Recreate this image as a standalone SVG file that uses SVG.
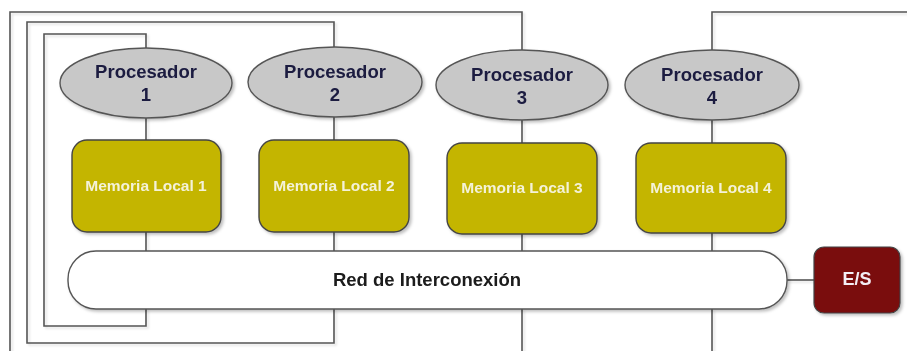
<svg xmlns="http://www.w3.org/2000/svg" width="907" height="351" viewBox="0 0 907 351">
<defs>
<filter id="sh" x="-10%" y="-10%" width="130%" height="140%">
<feDropShadow dx="2" dy="2" stdDeviation="1.5" flood-color="#000" flood-opacity="0.25"/>
</filter>
<filter id="lsh" x="-5%" y="-5%" width="110%" height="110%">
<feDropShadow dx="2" dy="2" stdDeviation="0.8" flood-color="#000" flood-opacity="0.12"/>
</filter>
</defs>
<style>
.wire{fill:none;stroke:#555;stroke-width:1.6}
.proc{fill:#c8c8c8;stroke:#555;stroke-width:1.4}
.mem{fill:#c4b500;stroke:#444;stroke-width:1.4}
.red{fill:#fff;stroke:#555;stroke-width:1.4}
.es{fill:#7a0a0e;stroke:#444;stroke-width:1.2}
.tp{font-family:"Liberation Sans",Arial,sans-serif;font-weight:bold;font-size:18.5px;fill:#1a1a40;text-anchor:middle}
.tm{font-family:"Liberation Sans",Arial,sans-serif;font-weight:bold;font-size:15.5px;fill:#f4f2d8;text-anchor:middle}
.tr{font-family:"Liberation Sans",Arial,sans-serif;font-weight:bold;font-size:18.5px;fill:#1a1a1a;text-anchor:middle}
.te{font-family:"Liberation Sans",Arial,sans-serif;font-weight:bold;font-size:18px;fill:#f4eef4;text-anchor:middle}
</style>
<rect width="907" height="351" fill="#fff"/>
<g id="connectors" filter="url(#lsh)">
<path class="wire" d="M10,360 V12 H522 V50"/>
<path class="wire" d="M522,309 V360"/>
<path class="wire" d="M334,47 V22 H27 V343 H334 V309"/>
<path class="wire" d="M146,48 V34 H44 V326 H146 V309"/>
<path class="wire" d="M712,50 V12 H910"/>
<path class="wire" d="M712,309 V360"/>
<path class="wire" d="M146,118 V140 M146,232 V251"/>
<path class="wire" d="M334,117 V140 M334,232 V251"/>
<path class="wire" d="M522,120 V143 M522,234 V251"/>
<path class="wire" d="M712,120 V143 M712,233 V251"/>
<path class="wire" d="M787,280 H814"/>
</g>
<g id="proc1" filter="url(#sh)"><ellipse class="proc" cx="146" cy="83" rx="86" ry="35"/><text class="tp" x="146" y="78">Procesador</text><text class="tp" x="146" y="101">1</text></g>
<g id="proc2" filter="url(#sh)"><ellipse class="proc" cx="335" cy="82" rx="87" ry="35"/><text class="tp" x="335" y="78">Procesador</text><text class="tp" x="335" y="101">2</text></g>
<g id="proc3" filter="url(#sh)"><ellipse class="proc" cx="522" cy="85" rx="86" ry="35"/><text class="tp" x="522" y="81">Procesador</text><text class="tp" x="522" y="104">3</text></g>
<g id="proc4" filter="url(#sh)"><ellipse class="proc" cx="712" cy="85" rx="87" ry="35"/><text class="tp" x="712" y="81">Procesador</text><text class="tp" x="712" y="104">4</text></g>
<g id="mem1" filter="url(#sh)"><rect class="mem" x="72" y="140" width="149" height="92" rx="15"/><text class="tm" x="146" y="191">Memoria Local 1</text></g>
<g id="mem2" filter="url(#sh)"><rect class="mem" x="259" y="140" width="150" height="92" rx="15"/><text class="tm" x="334" y="191">Memoria Local 2</text></g>
<g id="mem3" filter="url(#sh)"><rect class="mem" x="447" y="143" width="150" height="91" rx="15"/><text class="tm" x="522" y="193">Memoria Local 3</text></g>
<g id="mem4" filter="url(#sh)"><rect class="mem" x="636" y="143" width="150" height="90" rx="15"/><text class="tm" x="711" y="193">Memoria Local 4</text></g>
<g id="red" filter="url(#sh)"><rect class="red" x="68" y="251" width="719" height="58" rx="28"/><text class="tr" x="427" y="286">Red de Interconexión</text></g>
<g id="es" filter="url(#sh)"><rect class="es" x="814" y="247" width="86" height="66" rx="10"/><text class="te" x="857" y="285">E/S</text></g>
</svg>
